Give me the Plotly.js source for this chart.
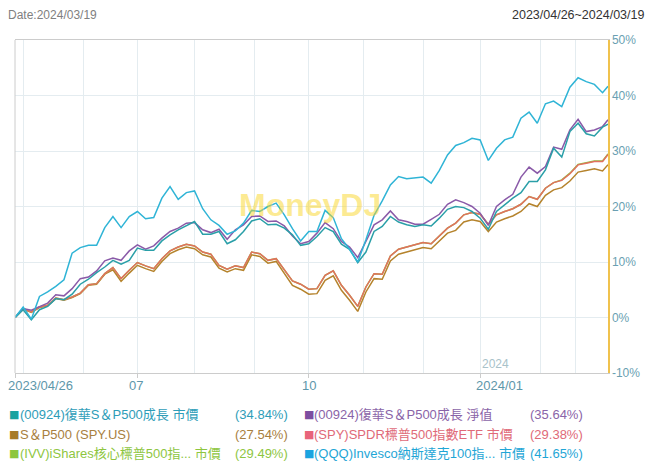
<!DOCTYPE html>
<html><head><meta charset="utf-8">
<script src="https://cdn.plot.ly/plotly-3.0.1.min.js"></script>
<style>html,body{margin:0;padding:0;background:#fff;}#chart{width:656px;height:467px;}</style>
</head><body><div id="chart"></div>
<script>
// ---- calendar (Taiwan trading days) ----
const startDate = '2023-04-26';
const endDate = '2024-03-19';
const holidays = ['2023-05-01','2023-06-22','2023-06-23','2023-08-03','2023-09-29','2023-10-09','2023-10-10',
  '2024-01-01','2024-02-06','2024-02-07','2024-02-08','2024-02-09','2024-02-12','2024-02-13','2024-02-14','2024-02-28'];
const sampleStep = 3;
const monthStarts = ['2023-05-02','2023-06-01','2023-07-03','2023-08-01','2023-09-01','2023-10-02','2023-11-01','2023-12-01','2024-01-02','2024-02-01','2024-03-01'];
const labelDates = ['2023-04-26','2023-07-03','2023-10-02','2024-01-02'];
const labelTexts = ['2023/04/26','07','10','2024/01'];
const yTicks = [-10,0,10,20,30,40,50];

// ---- series (cumulative return %, one value every 3 trading days + last day) ----
const mkt00924 = [0,1.4,-0.4,1.4,2.0,3.4,3.2,4.2,6.0,6.9,8.1,9.1,10.3,9.6,10.3,12.5,12.1,12.1,13.8,14.9,15.8,16.5,17.3,15.0,15.0,15.5,13.3,14.0,15.5,17.4,17.8,16.7,16.8,16.1,14.9,13.0,13.3,14.6,16.2,15.5,13.2,12.3,9.9,11.8,15.5,16.4,18.2,17.2,16.7,16.4,16.7,16.5,17.9,19.5,20.0,19.8,19.1,17.9,15.9,19.1,20.3,21.5,22.5,24.5,24.5,26.6,30.5,28.9,33.5,35.0,33.1,32.7,34.3,34.84];
const nav00924 = [0,1.6,1.3,2.0,2.6,4.1,3.9,5.2,7.0,7.3,8.4,10.2,10.7,10.3,12.0,13.1,12.3,12.9,14.3,15.5,16.1,17.0,17.1,15.8,15.3,15.9,14.1,15.8,16.7,18.2,18.3,17.3,17.4,16.5,14.7,13.3,13.7,15.2,17.1,16.0,13.7,12.7,10.8,13.7,16.7,17.6,19.2,17.6,17.3,16.8,16.8,17.7,18.6,20.4,21.2,20.7,20.0,18.8,16.6,20.0,21.2,22.2,25.3,27.1,26.0,27.2,30.7,30.3,33.8,35.7,33.5,33.8,34.4,35.64];
const sp500 = [0,1.5,0.9,1.8,2.1,3.4,3.1,3.6,4.3,5.8,6.0,7.8,8.6,6.5,8.0,9.4,8.8,8.3,10.1,11.5,12.2,12.7,12.4,11.3,10.9,8.9,8.2,8.8,8.5,11.3,11.0,9.8,10.1,8.0,5.8,5.1,4.2,4.3,6.7,7.5,4.9,3.1,1.1,4.6,7.0,6.9,10.2,11.4,11.8,12.1,12.6,12.4,13.8,15.2,15.7,17.2,17.6,17.3,15.5,17.2,17.8,18.3,19.1,20.5,20.0,22.0,23.0,23.4,24.6,26.2,26.5,26.8,26.4,27.54];
const spy = [0,1.6,1.0,1.9,2.2,3.5,3.2,3.7,4.4,5.9,6.1,7.9,9.0,7.0,8.5,9.9,9.3,8.8,10.6,12.0,12.7,13.2,12.9,11.8,11.4,9.4,8.7,9.3,9.0,11.8,11.5,10.3,10.6,8.5,6.6,6.0,5.1,5.2,7.6,8.4,5.8,4.0,2.0,5.5,7.9,7.8,11.1,12.3,12.7,13.0,13.5,13.3,14.7,16.1,17.0,18.5,18.9,18.6,16.8,18.5,19.1,19.6,20.4,21.8,21.3,23.3,24.3,24.7,25.9,27.5,27.8,28.1,28.1,29.38];
const ivv = [0,1.6,1.0,1.9,2.2,3.5,3.2,3.7,4.4,5.9,6.1,7.9,9.0,7.0,8.5,9.9,9.3,8.8,10.6,12.0,12.7,13.2,12.9,11.8,11.4,9.4,8.7,9.3,9.0,11.8,11.5,10.3,10.6,8.5,6.6,6.0,5.1,5.2,7.6,8.4,5.8,4.0,2.0,5.5,7.9,7.8,11.1,12.3,12.7,13.0,13.5,13.3,14.7,16.1,17.0,18.5,18.9,18.6,16.8,18.5,19.1,19.6,20.4,21.8,21.3,23.3,24.3,24.8,26.0,27.6,27.9,28.2,28.2,29.49];
const qqq = [0,1.9,-0.3,3.8,4.6,5.6,6.8,11.6,12.6,13.0,13.0,16.2,18.2,16.2,18.2,19.1,17.8,18.0,21.5,23.6,21.3,22.5,22.8,19.6,17.6,16.6,15.0,15.6,17.0,19.3,19.1,20.0,20.6,18.5,16.0,13.8,15.5,15.5,19.3,18.0,14.2,12.3,10.0,14.0,18.4,21.0,23.9,25.4,25.0,25.2,25.3,24.2,26.5,29.3,31.0,31.5,32.3,32.0,28.3,30.5,32.0,32.5,35.9,37.0,35.0,38.5,39.0,38.0,41.5,43.2,42.5,42.0,40.5,41.65];

const names = ['(00924)復華S＆P500成長 市價','(00924)復華S＆P500成長 淨值','S＆P500 (SPY.US)','(SPY)SPDR標普500指數ETF 市價','(IVV)iShares核心標普500指... 市價','(QQQ)Invesco納斯達克100指... 市價'];
const finals = ['(34.84%)','(35.64%)','(27.54%)','(29.38%)','(29.49%)','(41.65%)'];

// ---- build dates ----
function tradingDays(){
  const out=[]; let t=Date.parse(startDate+'T00:00:00Z'); const e=Date.parse(endDate+'T00:00:00Z');
  while(t<=e){const d=new Date(t); const wd=d.getUTCDay(); const s=d.toISOString().slice(0,10);
    if(wd!==0&&wd!==6&&holidays.indexOf(s)<0) out.push(s); t+=86400000;}
  return out;
}
const days = tradingDays();
const dates = days.filter((d,i)=> i%sampleStep===0 || i===days.length-1);

const FONT = "'Liberation Sans', Arial, 'Noto Sans CJK TC', sans-serif";
const W=656,H=467,L=15,R=48,T=40,B=94;
const pw=W-L-R, ph=H-T-B;
const px = x => (x-L)/pw, py = y => (H-B-y)/ph;

const lineCols = {mkt:'#2a9fa8', nav:'#8a5aa8', sp:'#b5832c', spy:'#e2705e', ivv:'#8cc63f', qqq:'#2fb4d6'};
function tr(y,c){return {type:'scatter',mode:'lines',x:dates,y:y,line:{color:c,width:1.5},hoverinfo:'skip',showlegend:false};}
const data = [
  tr(sp500,lineCols.sp), tr(ivv,lineCols.ivv), tr(spy,lineCols.spy),
  tr(nav00924,lineCols.nav), tr(mkt00924,lineCols.mkt), tr(qqq,lineCols.qqq)
];

const grid='#e4ecf0';
const ann = [];
ann.push({xref:'paper',yref:'paper',x:px(6),y:py(15),xanchor:'left',yanchor:'middle',showarrow:false,text:'Date:2024/03/19',font:{family:FONT,size:12,color:'#808080'}});
ann.push({xref:'paper',yref:'paper',x:px(646),y:py(15),xanchor:'right',yanchor:'middle',showarrow:false,text:'2023/04/26~2024/03/19',font:{family:FONT,size:12.5,color:'#333333'}});
ann.push({xref:'paper',yref:'paper',x:px(310),y:py(205),xanchor:'center',yanchor:'middle',showarrow:false,text:'<b>MoneyDJ</b>',font:{family:FONT,size:32,color:'rgba(250,214,40,0.5)'}});
ann.push({xref:'x',yref:'paper',x:'2024-01-02',y:0,xanchor:'left',yanchor:'bottom',xshift:0,yshift:0,showarrow:false,text:'2024',font:{family:FONT,size:12,color:'#a9c2ca'}});
const xanch=['left','center','center','left'], xsh=[-9,-1,0,-6];
labelDates.forEach((d,i)=>ann.push({xref:'x',yref:'paper',x:d,y:0,xanchor:xanch[i],yanchor:'top',xshift:xsh[i],yshift:-3,showarrow:false,text:labelTexts[i],font:{family:FONT,size:13,color:'#5e97aa'}}));

// legend
const sqCols=['#17a2a0','#7d4ea0','#a67a2a','#e8647a','#8cc63f','#1ba4e0'];
const txtCols=['#2e9db8','#8a64a8','#a88040','#e06a78','#8ec63f','#1fa6d6'];
const rowsY=[414,434,453];
const order=[[0,0],[1,1],[2,0],[3,1],[4,0],[5,1]]; // [seriesIdx, column]
const rowOf=[0,0,1,1,2,2];
const colSq=[7,302], colTxt=[18,312], colPct=[233,528];
order.forEach(([s,c])=>{
  const y=py(rowsY[rowOf[s]]);
  ann.push({xref:'paper',yref:'paper',x:px(colSq[c]),y:y,xanchor:'left',yanchor:'middle',showarrow:false,text:'■',font:{family:'DejaVu Sans',size:11,color:sqCols[s]}});
  ann.push({xref:'paper',yref:'paper',x:px(colTxt[c]),y:y,xanchor:'left',yanchor:'middle',showarrow:false,text:names[s],font:{family:FONT,size:13,color:txtCols[s]}});
  ann.push({xref:'paper',yref:'paper',x:px(colPct[c]),y:y,xanchor:'left',yanchor:'middle',showarrow:false,text:finals[s],font:{family:FONT,size:13,color:txtCols[s]}});
});

const layout = {
  width:W,height:H,margin:{l:L,r:R,t:T,b:B,pad:0},
  paper_bgcolor:'#ffffff',plot_bgcolor:'#ffffff',
  font:{family:FONT},
  xaxis:{type:'date',range:[startDate,endDate],
    rangebreaks:[{bounds:['sat','mon']},{values:holidays}],
    tickmode:'array',tickvals:labelDates,ticktext:labelDates.map(()=> ''),showticklabels:false,
    ticks:'outside',ticklen:4,tickcolor:'#cccccc',
    showgrid:true,gridcolor:grid,gridwidth:1,
    minor:{tickmode:'array',tickvals:monthStarts,showgrid:true,gridcolor:grid,gridwidth:1,ticks:''},
    showline:true,linecolor:'#cccccc',linewidth:1,mirror:true,zeroline:false,fixedrange:true},
  yaxis:{side:'right',range:[-10,50],tickmode:'array',tickvals:yTicks,ticktext:yTicks.map(v=>v+'%'),
    showgrid:true,gridcolor:grid,gridwidth:1,zeroline:false,ticks:'',
    showline:true,linecolor:'#f0c24e',linewidth:1.5,
    tickfont:{family:FONT,size:12,color:'#6a9fb2'},fixedrange:true},
  shapes:[{type:'line',xref:'paper',yref:'paper',x0:0,x1:0,y0:0,y1:1,line:{color:'#cccccc',width:1}}],
  annotations:ann
};
Plotly.newPlot('chart',data,layout,{staticPlot:true,displayModeBar:false});
</script></body></html>
